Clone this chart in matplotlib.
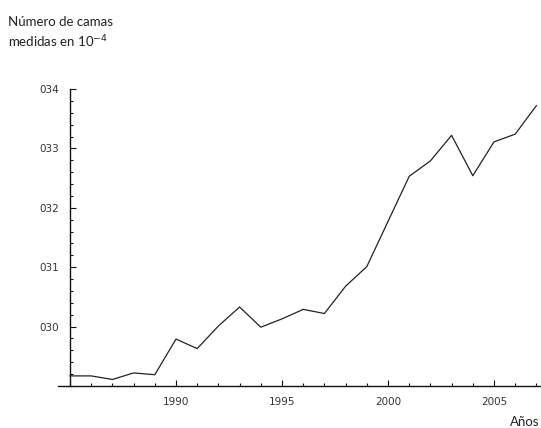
import matplotlib
matplotlib.use("Agg")
from matplotlib import pyplot as plt
from matplotlib.ticker import MultipleLocator, FixedLocator

years = list(range(1985, 2008))
camas = [0.2917, 0.2917, 0.2911, 0.2922, 0.2919, 0.2979, 0.2963, 0.3001,
         0.3033, 0.2999, 0.3013, 0.3029, 0.3022, 0.3068, 0.3101, 0.3177,
         0.3253, 0.3279, 0.3322, 0.3254, 0.3311, 0.3324, 0.3372]

y_ticks = [0.30, 0.31, 0.32, 0.33, 0.34]
y_labels = ['030', '031', '032', '033', '034']
x_ticks = [1990, 1995, 2000, 2005]

W, H = 541, 428
fig = plt.figure(figsize=(W / 100, H / 100), dpi=100)
ax = fig.add_axes([58 / W, (H - 386) / H, 1 - 58 / W, (386 - 89) / H])

ax.plot(years, camas, color='#222222', lw=0.9, clip_on=False)

ax.set_xlim(1985 - 12 / 21.2, 1985 + 471 / 21.2)
ax.set_ylim(0.29, 0.34)

# mathematica style axes: crossing at (1985, 0.29)
for s in ['top', 'right']:
  ax.spines[s].set_visible(False)
ax.spines['left'].set_position(('data', 1985))
ax.spines['left'].set_bounds(0.29, 0.34)
for s in ['left', 'bottom']:
  ax.spines[s].set_linewidth(1.0)
  ax.spines[s].set_color('#111111')

ax.yaxis.set_major_locator(FixedLocator(y_ticks))
ax.set_yticklabels(y_labels)
ax.yaxis.set_minor_locator(MultipleLocator(0.002))
ax.xaxis.set_major_locator(FixedLocator(x_ticks))
ax.xaxis.set_minor_locator(MultipleLocator(1))

ax.tick_params(which='both', direction='in', color='#111111', width=0.8)
ax.tick_params(which='major', length=4.5)
ax.tick_params(which='minor', length=2.5)
ax.tick_params(axis='y', which='major', pad=8, labelsize=7.5, labelcolor='#333333')
ax.tick_params(axis='x', which='major', pad=8, labelsize=7.5, labelcolor='#333333')
for lab in ax.get_xticklabels() + ax.get_yticklabels():
  lab.set_family('DejaVu Sans')

fig.text(8 / W, 1 - 22 / H, 'Número de camas', fontsize=9.5, family='Lato',
         color='#222222', ha='left', va='center')
fig.text(8 / W, 1 - 42 / H, 'medidas en 10$^{-4}$', fontsize=9.5, family='Lato',
         color='#222222', ha='left', va='center')
fig.text(539 / W, (H - 422) / H, 'Años', fontsize=9.5, family='Lato',
         color='#222222', ha='right', va='center')

plt.savefig('out.png', dpi=100)
